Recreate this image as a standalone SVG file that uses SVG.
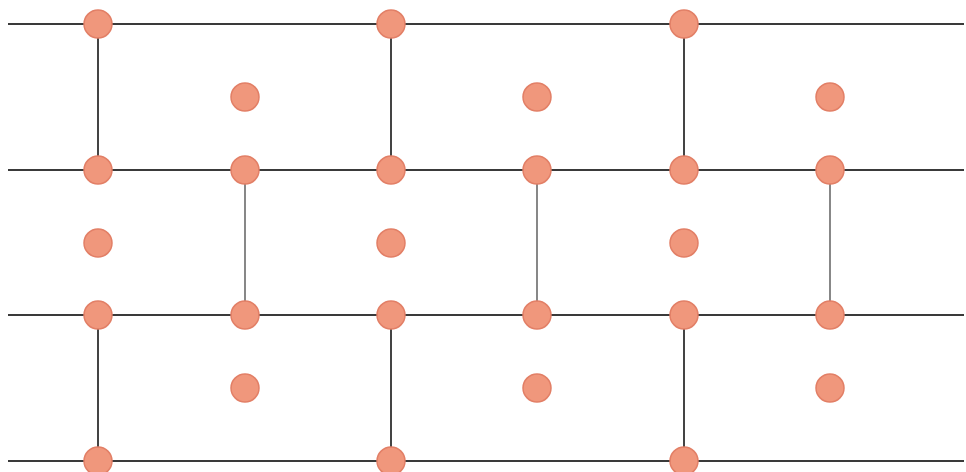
<svg xmlns="http://www.w3.org/2000/svg" width="966" height="472" viewBox="0 0 966 472">
<style>
.h{stroke:#3a3a3a;stroke-width:2;fill:none}
.v{stroke:#444;stroke-width:2;fill:none}
.v2{stroke:#6a6a6a;stroke-width:1.6;fill:none}
.n{fill:#f0977c;stroke:#e27f66;stroke-width:1.5}
</style>
<rect width="966" height="472" fill="#ffffff"/>
<g id="connectors">
<line class="h" x1="8" y1="24" x2="964" y2="24"/>
<line class="h" x1="8" y1="170" x2="964" y2="170"/>
<line class="h" x1="8" y1="315" x2="964" y2="315"/>
<line class="h" x1="8" y1="461" x2="964" y2="461"/>
<line class="v" x1="98" y1="24" x2="98" y2="170"/>
<line class="v" x1="391" y1="24" x2="391" y2="170"/>
<line class="v" x1="684" y1="24" x2="684" y2="170"/>
<line class="v2" x1="245" y1="170" x2="245" y2="315"/>
<line class="v2" x1="537" y1="170" x2="537" y2="315"/>
<line class="v2" x1="830" y1="170" x2="830" y2="315"/>
<line class="v" x1="98" y1="315" x2="98" y2="461"/>
<line class="v" x1="391" y1="315" x2="391" y2="461"/>
<line class="v" x1="684" y1="315" x2="684" y2="461"/>
</g>
<g id="n1"><circle class="n" cx="98" cy="24" r="14"/></g>
<g id="n2"><circle class="n" cx="391" cy="24" r="14"/></g>
<g id="n3"><circle class="n" cx="684" cy="24" r="14"/></g>
<g id="n4"><circle class="n" cx="245" cy="97" r="14"/></g>
<g id="n5"><circle class="n" cx="537" cy="97" r="14"/></g>
<g id="n6"><circle class="n" cx="830" cy="97" r="14"/></g>
<g id="n7"><circle class="n" cx="98" cy="170" r="14"/></g>
<g id="n8"><circle class="n" cx="245" cy="170" r="14"/></g>
<g id="n9"><circle class="n" cx="391" cy="170" r="14"/></g>
<g id="n10"><circle class="n" cx="537" cy="170" r="14"/></g>
<g id="n11"><circle class="n" cx="684" cy="170" r="14"/></g>
<g id="n12"><circle class="n" cx="830" cy="170" r="14"/></g>
<g id="n13"><circle class="n" cx="98" cy="243" r="14"/></g>
<g id="n14"><circle class="n" cx="391" cy="243" r="14"/></g>
<g id="n15"><circle class="n" cx="684" cy="243" r="14"/></g>
<g id="n16"><circle class="n" cx="98" cy="315" r="14"/></g>
<g id="n17"><circle class="n" cx="245" cy="315" r="14"/></g>
<g id="n18"><circle class="n" cx="391" cy="315" r="14"/></g>
<g id="n19"><circle class="n" cx="537" cy="315" r="14"/></g>
<g id="n20"><circle class="n" cx="684" cy="315" r="14"/></g>
<g id="n21"><circle class="n" cx="830" cy="315" r="14"/></g>
<g id="n22"><circle class="n" cx="245" cy="388" r="14"/></g>
<g id="n23"><circle class="n" cx="537" cy="388" r="14"/></g>
<g id="n24"><circle class="n" cx="830" cy="388" r="14"/></g>
<g id="n25"><circle class="n" cx="98" cy="461" r="14"/></g>
<g id="n26"><circle class="n" cx="391" cy="461" r="14"/></g>
<g id="n27"><circle class="n" cx="684" cy="461" r="14"/></g>
</svg>
